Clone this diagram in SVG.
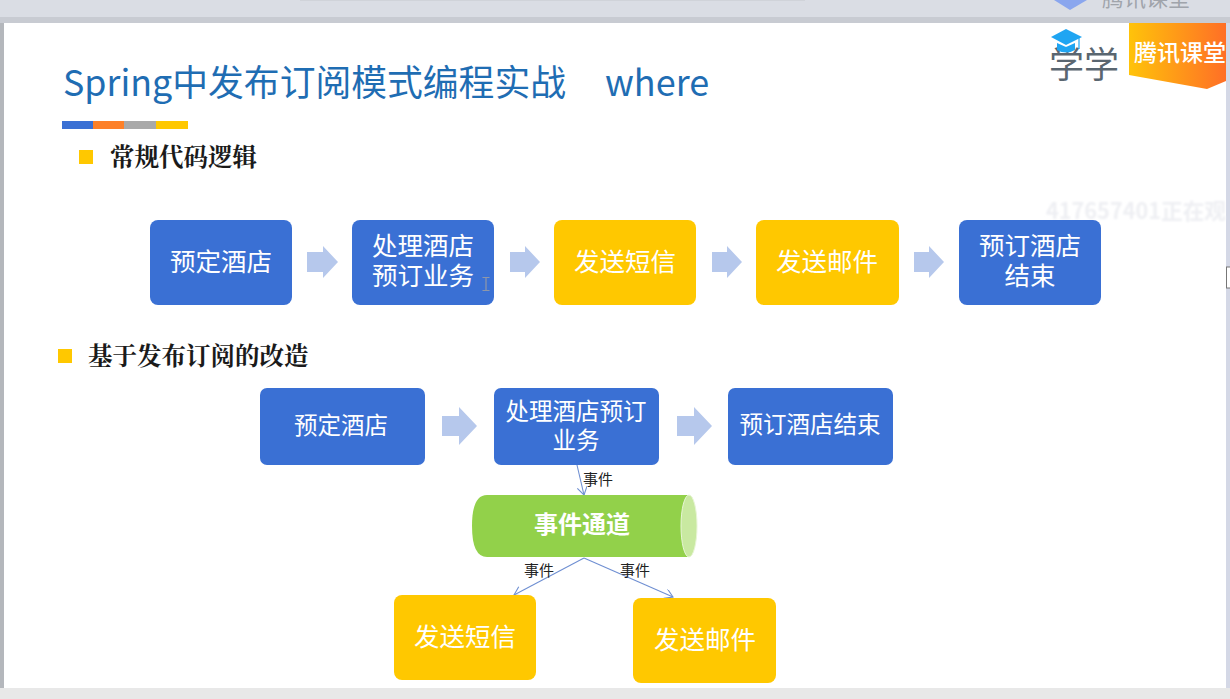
<svg xmlns="http://www.w3.org/2000/svg" width="1230" height="699" viewBox="0 0 1230 699">
<style>
text{font-family:"Microsoft YaHei","Noto Sans CJK SC","Noto Sans",sans-serif}
.box{stroke:none}
.blue{fill:#3a70d4}
.yellow{fill:#ffc800}
.t{fill:#fff;font-size:25.500px;text-anchor:middle}
.s{font-size:23.500px}
.head{font-family:"Noto Serif CJK SC","Noto Sans CJK SC",serif;font-size:24.500px;font-weight:700;fill:#1a1a1a}
.arrow{fill:#b6c8ec}
.lab{font-size:15px;fill:#222;text-anchor:middle}
.conn{fill:none;stroke:#6f8fd2;stroke-width:1.1}
</style>
<defs>
<marker id="open" markerWidth="12" markerHeight="12" refX="9" refY="5" orient="auto" markerUnits="userSpaceOnUse"><path d="M1 0L9 5L1 10" fill="none" stroke="#6f8fd2" stroke-width="1.1"/></marker>
<linearGradient id="tag" x1="0" x2="1" y1="0" y2="0"><stop offset="0" stop-color="#ffc30a"/><stop offset="1" stop-color="#ff6f26"/></linearGradient>
<filter id="soft" x="-5%" y="-50%" width="110%" height="200%"><feGaussianBlur stdDeviation="1"/></filter>
</defs>

<g id="chrome">
<rect width="1230" height="699" fill="#dde0e8"/>
<rect y="0" width="1230" height="23" fill="#dadde4"/>
<rect y="17" width="1230" height="6" fill="#b9bcc2" opacity=".55"/>
<rect x="0" y="23" width="4" height="665" fill="#b4b7bc"/>
<rect x="300" y="0" width="505" height="1" fill="#d0d3d9"/>
<path d="M1054 0H1087L1070 10Z" fill="#8aa6ee"/>
<text x="1102" y="6" font-size="22" fill="#a0a4ab">腾讯课堂</text>
<rect x="4" y="23" width="1222" height="665" fill="#fff"/>
<rect x="1226" y="23" width="4" height="665" fill="#d4d8e6"/>
<rect x="0" y="688" width="1230" height="11" fill="#e8e8e8"/>
<rect x="1226.500" y="267" width="5" height="21" fill="#fff" stroke="#777"/>
</g>

<g id="title">
<text x="63" y="96" font-size="36" fill="#1f6db3" textLength="503" lengthAdjust="spacingAndGlyphs">Spring中发布订阅模式编程实战</text>
<text x="605" y="96" font-size="36" fill="#1f6db3">where</text>
<rect x="62" y="121" width="31" height="8" fill="#3a70d4"/>
<rect x="93" y="121" width="31" height="8" fill="#fd8028"/>
<rect x="124" y="121" width="32" height="8" fill="#a9a9a9"/>
<rect x="156" y="121" width="32" height="8" fill="#ffc800"/>
</g>

<g id="logo">
<text x="1049" y="78" font-size="36" fill="#5a6670" textLength="70" lengthAdjust="spacingAndGlyphs">学学</text>
<path d="M1066 29L1082 37L1066 45L1051 37Z" fill="#1fa5f2"/>
<path d="M1057 43V50Q1066 55 1075 50V43L1066 47Z" fill="#1fa5f2"/>
<path d="M1079 38V49" stroke="#1fa5f2" stroke-width="1.200"/>
<path d="M1129 23H1226V81L1207 89L1129 75Z" fill="url(#tag)"/>
<text x="1134" y="61" font-size="23" font-weight="500" fill="#fff" textLength="92" lengthAdjust="spacing">腾讯课堂</text>
</g>

<g id="watermark">
<text x="1046" y="219" font-size="22" font-weight="700" fill="#eeeff3" filter="url(#soft)" textLength="180" lengthAdjust="spacingAndGlyphs">417657401正在观</text>
</g>

<g id="heading-1">
<rect x="79" y="150" width="14" height="14" class="yellow"/>
<text x="110" y="166" class="head">常规代码逻辑</text>
</g>
<g id="heading-2">
<rect x="58" y="349" width="14" height="14" class="yellow"/>
<text x="88" y="365" class="head">基于发布订阅的改造</text>
</g>

<g id="connectors">
<path class="arrow" d="M307 252H323V246L338 262L323 278V272H307Z"/>
<path class="arrow" d="M510 252H525V246L540 262L525 278V272H510Z"/>
<path class="arrow" d="M712 252H727V246L742 262L727 278V272H712Z"/>
<path class="arrow" d="M914 252H929V246L944 262L929 278V272H914Z"/>
<path class="arrow" d="M442 416H459V407L477 426L459 445V436H442Z"/>
<path class="arrow" d="M677 416H694V407L712 426L694 445V436H677Z"/>
<path class="conn" d="M577 465L584 495" marker-end="url(#open)"/>
<path class="conn" d="M584 558L514 595" marker-end="url(#open)"/>
<path class="conn" d="M584 558L673 597" marker-end="url(#open)"/>
<text class="lab" x="598" y="485">事件</text>
<text class="lab" x="539" y="576">事件</text>
<text class="lab" x="635" y="576">事件</text>
</g>

<g id="n1"><rect class="box blue" x="150" y="220" width="142" height="85" rx="8"/><text class="t" x="221" y="271">预定酒店</text></g>
<g id="n2"><rect class="box blue" x="352" y="220" width="142" height="85" rx="8"/><text class="t"><tspan x="423" y="255">处理酒店</tspan><tspan x="423" y="285">预订业务</tspan></text>
<path d="M482.500 277.500H489.500M482.500 290.500H489.500M486 277.500V290.500" fill="none" stroke="#8f97a8" stroke-width="1.200"/></g>
<g id="n3"><rect class="box yellow" x="554" y="220" width="142" height="85" rx="8"/><text class="t" x="625" y="271">发送短信</text></g>
<g id="n4"><rect class="box yellow" x="756" y="220" width="143" height="85" rx="8"/><text class="t" x="827" y="271">发送邮件</text></g>
<g id="n5"><rect class="box blue" x="959" y="220" width="142" height="85" rx="8"/><text class="t"><tspan x="1030" y="255">预订酒店</tspan><tspan x="1030" y="285">结束</tspan></text></g>

<g id="n6"><rect class="box blue" x="260" y="388" width="165" height="77" rx="7"/><text class="t s" x="341" y="434">预定酒店</text></g>
<g id="n7"><rect class="box blue" x="494" y="388" width="165" height="77" rx="7"/><text class="t s"><tspan x="576" y="420">处理酒店预订</tspan><tspan x="576" y="449">业务</tspan></text></g>
<g id="n8"><rect class="box blue" x="728" y="388" width="165" height="77" rx="7"/><text class="t s" x="810" y="433">预订酒店结束</text></g>

<g id="channel">
<path d="M487 495H689V557H487Q472 557 472 526Q472 495 487 495Z" fill="#92d14a"/>
<ellipse cx="689" cy="526" rx="8" ry="31" fill="#c9e9a1" stroke="#e8f5d6" stroke-width="1"/>
<text x="582" y="533" font-size="24" font-weight="700" fill="#fff" text-anchor="middle">事件通道</text>
</g>

<g id="n9"><rect class="box yellow" x="394" y="595" width="142" height="85" rx="8"/><text class="t" x="465" y="646">发送短信</text></g>
<g id="n10"><rect class="box yellow" x="633" y="598" width="143" height="85" rx="8"/><text class="t" x="705" y="649">发送邮件</text></g>
</svg>
